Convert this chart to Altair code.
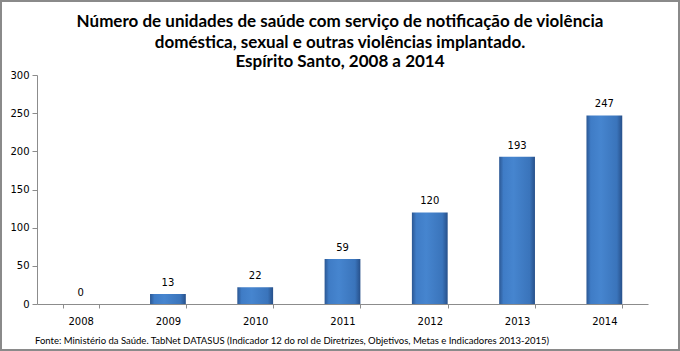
import altair as alt
import pandas as pd

years = ["2008", "2009", "2010", "2011", "2012", "2013", "2014"]
values = [0, 13, 22, 59, 120, 193, 247]
y_ticks = [0, 50, 100, 150, 200, 250, 300]
title_lines = [
    "Número de unidades de saúde com serviço de notificação de violência",
    "doméstica, sexual e outras violências implantado.",
    "Espírito Santo, 2008 a 2014",
]
footer_text = ("Fonte: Ministério da Saúde. TabNet DATASUS (Indicador 12  do rol de Diretrizes, "
               "Objetivos, Metas e Indicadores 2013-2015)")

df = pd.DataFrame({"ano": years, "valor": values})

W, H = 611, 229

gradient = alt.Gradient(
    gradient="linear", x1=0, x2=1, y1=0, y2=0,
    stops=[
        alt.GradientStop(offset=0, color="#2b5793"),
        alt.GradientStop(offset=0.12, color="#3f7cc6"),
        alt.GradientStop(offset=0.4, color="#4685cf"),
        alt.GradientStop(offset=0.85, color="#3a74bb"),
        alt.GradientStop(offset=1, color="#27508a"),
    ],
)

x_scale = alt.Scale(paddingInner=0.59, paddingOuter=0.295)
y_scale = alt.Scale(domain=[0, 300], nice=False)

x_axis = alt.Axis(
    title=None, labelAngle=0, tickBand="extent", domainColor="#8c8c8c",
    tickColor="#8c8c8c", tickSize=4, labelPadding=8, labelFont="DejaVu Sans",
    labelFontSize=10, labelColor="#000000", grid=False,
)
y_axis = alt.Axis(
    title=None, values=y_ticks, domainColor="#8c8c8c", tickColor="#8c8c8c",
    tickSize=5, labelPadding=3, labelFont="DejaVu Sans", labelFontSize=10,
    labelColor="#000000", grid=False, labelOverlap=False,
)

x_enc = alt.X("ano:N", sort=years, scale=x_scale, axis=x_axis)
y_enc = alt.Y("valor:Q", scale=y_scale, axis=y_axis)

bars = alt.Chart(df).mark_bar(color=gradient).encode(x=x_enc, y=y_enc)

labels = alt.Chart(df).mark_text(
    dy=-11, font="DejaVu Sans", fontSize=10, color="#000000"
).encode(x=x_enc, y=y_enc, text="valor:Q")

title_layers = []
for line, ypos in zip(title_lines, [-48, -27, -8]):
    title_layers.append(
        alt.Chart(pd.DataFrame({"t": [line]})).mark_text(
            align="center", baseline="alphabetic", font="Lato", fontSize=17,
            fontWeight="bold", color="#000000"
        ).encode(x=alt.value(303), y=alt.value(ypos), text="t:N")
    )

footer = alt.Chart(pd.DataFrame({"t": [footer_text]})).mark_text(
    align="left", baseline="middle", font="Lato", fontSize=9.5, color="#000000"
).encode(x=alt.value(-2), y=alt.value(266), text="t:N")

border = alt.Chart(pd.DataFrame({"b": [1]})).mark_rect(
    filled=False, stroke="#8a8a8a", strokeWidth=2
).encode(x=alt.value(-36), x2=alt.value(642), y=alt.value(-74), y2=alt.value(275))

chart = alt.layer(bars, labels, footer, border, *title_layers).properties(
    width=W, height=H,
    padding={"left": 37, "top": 75, "right": 32, "bottom": 47},
    autosize=alt.AutoSizeParams(type="none"),
    background="#ffffff",
).configure_view(stroke=None)

chart.save("out.html", embed_options={"renderer": "svg", "actions": False})
